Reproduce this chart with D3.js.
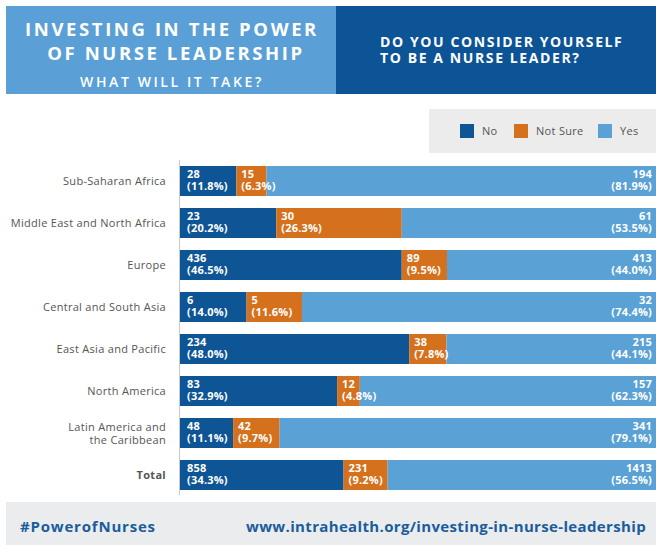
<!DOCTYPE html>
<html>
<head>
<meta charset="utf-8">
<script src="https://cdn.jsdelivr.net/npm/d3@7"></script>
<style>
  body { margin: 0; background: #fff; }
  svg { display: block; font-family: "Open Sans", "Noto Sans", sans-serif; }
</style>
</head>
<body>
<script>
// DATA
const regions = ["Sub-Saharan Africa", "Middle East and North Africa", "Europe", "Central and South Asia",
  "East Asia and Pacific", "North America", "Latin America and|the Caribbean", "Total"];
const answers = ["No", "Not Sure", "Yes"];
const noCounts = [28, 23, 436, 6, 234, 83, 48, 858];
const notSureCounts = [15, 30, 89, 5, 38, 12, 42, 231];
const yesCounts = [194, 61, 413, 32, 215, 157, 341, 1413];
const noPct = ["11.8%", "20.2%", "46.5%", "14.0%", "48.0%", "32.9%", "11.1%", "34.3%"];
const notSurePct = ["6.3%", "26.3%", "9.5%", "11.6%", "7.8%", "4.8%", "9.7%", "9.2%"];
const yesPct = ["81.9%", "53.5%", "44.0%", "74.4%", "44.1%", "62.3%", "79.1%", "56.5%"];

const colors = { "No": "#0e5595", "Not Sure": "#d5711d", "Yes": "#5aa1d5" };

//SIZES
const W = 656, H = 545;
const svg = d3.select("body").append("svg").attr("width", W).attr("height", H);

//HEADER
svg.append("rect").attr("x", 6).attr("y", 6).attr("width", 330).attr("height", 88).attr("fill", "#5aa0d6");
svg.append("rect").attr("x", 336).attr("y", 6).attr("width", 320).attr("height", 88).attr("fill", "#0d5496");

const headL = svg.append("g").attr("fill", "#fff").attr("font-weight", 700).attr("text-anchor", "middle");
headL.append("text").attr("x", 172).attr("y", 36).style("font-size", "18.5px").style("letter-spacing", "2.6px").text("INVESTING IN THE POWER");
headL.append("text").attr("x", 176).attr("y", 60).style("font-size", "18.5px").style("letter-spacing", "2.6px").text("OF NURSE LEADERSHIP");
headL.append("text").attr("x", 172).attr("y", 87).attr("font-weight", 600).style("font-size", "14px").style("letter-spacing", "2.6px").text("WHAT WILL IT TAKE?");

const headR = svg.append("g").attr("fill", "#fff").attr("font-weight", 700);
headR.append("text").attr("x", 380).attr("y", 47).style("font-size", "14px").style("letter-spacing", "1.6px").text("DO YOU CONSIDER YOURSELF");
headR.append("text").attr("x", 380).attr("y", 63).style("font-size", "14px").style("letter-spacing", "1.6px").text("TO BE A NURSE LEADER?");

//LEGEND
const legend = svg.append("g");
legend.append("rect").attr("x", 429).attr("y", 109).attr("width", 227).attr("height", 44).attr("fill", "#ececec");
const legX = { "No": 460, "Not Sure": 514, "Yes": 598 };
answers.forEach(a => {
  legend.append("rect").attr("x", legX[a]).attr("y", 124).attr("width", 14).attr("height", 14).attr("fill", colors[a]);
  legend.append("text").attr("x", legX[a] + 22).attr("y", 135).attr("fill", "#555").style("font-size", "11px").style("letter-spacing", "0.3px").text(a);
});

//STACKED DATA
const rows = regions.map((r, i) => ({
  region: r,
  "No": noCounts[i], "Not Sure": notSureCounts[i], "Yes": yesCounts[i],
  pct: { "No": noPct[i], "Not Sure": notSurePct[i], "Yes": yesPct[i] }
}));
const series = d3.stack().keys(answers).offset(d3.stackOffsetExpand)(rows);

//SCALES
const X = d3.scaleLinear().domain([0, 1]).range([180, 657]);
const Y = d3.scaleBand().domain(regions).range([160, 496]).paddingInner(12 / 42).paddingOuter(6 / 42);

//BARS
const layers = svg.append("g").selectAll("g").data(series).enter().append("g")
  .attr("fill", d => colors[d.key]);
layers.selectAll("rect").data(d => d).enter().append("rect")
  .attr("x", d => X(d[0]))
  .attr("y", d => Y(d.data.region))
  .attr("width", d => X(d[1]) - X(d[0]))
  .attr("height", Y.bandwidth());

//BAR LABELS
series.forEach(s => {
  const g = svg.append("g").attr("fill", "#fff").attr("font-weight", 700).style("font-size", "11px").style("letter-spacing", "0.2px");
  s.forEach(d => {
    const right = s.key === "Yes";
    const x = right ? 652 : X(d[0]) + (s.key === "No" ? 7 : 5);
    const y = Y(d.data.region);
    const t = g.append("text").attr("x", x).attr("text-anchor", right ? "end" : "start");
    t.append("tspan").attr("x", x).attr("y", y + 11.5).text(d.data[s.key]);
    t.append("tspan").attr("x", x).attr("y", y + 24).text("(" + d.data.pct[s.key] + ")");
  });
});

//AXIS LINE
svg.append("line").attr("x1", 179.5).attr("x2", 179.5).attr("y1", 160).attr("y2", 495)
  .attr("stroke", "#c8c8c8").attr("stroke-width", 1);

//CATEGORY LABELS
const cats = svg.append("g").attr("text-anchor", "end").attr("fill", "#555").style("font-size", "11px").style("letter-spacing", "0.3px");
regions.forEach(r => {
  const parts = r.split("|");
  const mid = Y(r) + Y.bandwidth() / 2;
  const t = cats.append("text").attr("font-weight", r === "Total" ? 700 : 400);
  parts.forEach((p, j) => {
    t.append("tspan").attr("x", 166).attr("y", mid + 4 + (j - (parts.length - 1) / 2) * 13).text(p);
  });
});

//FOOTER
svg.append("rect").attr("x", 6).attr("y", 502).attr("width", 650).attr("height", 43).attr("fill", "#ebeced");
const foot = svg.append("g").attr("fill", "#1a5d9c").attr("font-weight", 700).style("font-size", "15px");
foot.append("text").attr("x", 20).attr("y", 532).style("letter-spacing", "0.8px").text("#PowerofNurses");
foot.append("text").attr("x", 646).attr("y", 532).attr("text-anchor", "end").style("letter-spacing", "0.35px").text("www.intrahealth.org/investing-in-nurse-leadership");
</script>
</body>
</html>
